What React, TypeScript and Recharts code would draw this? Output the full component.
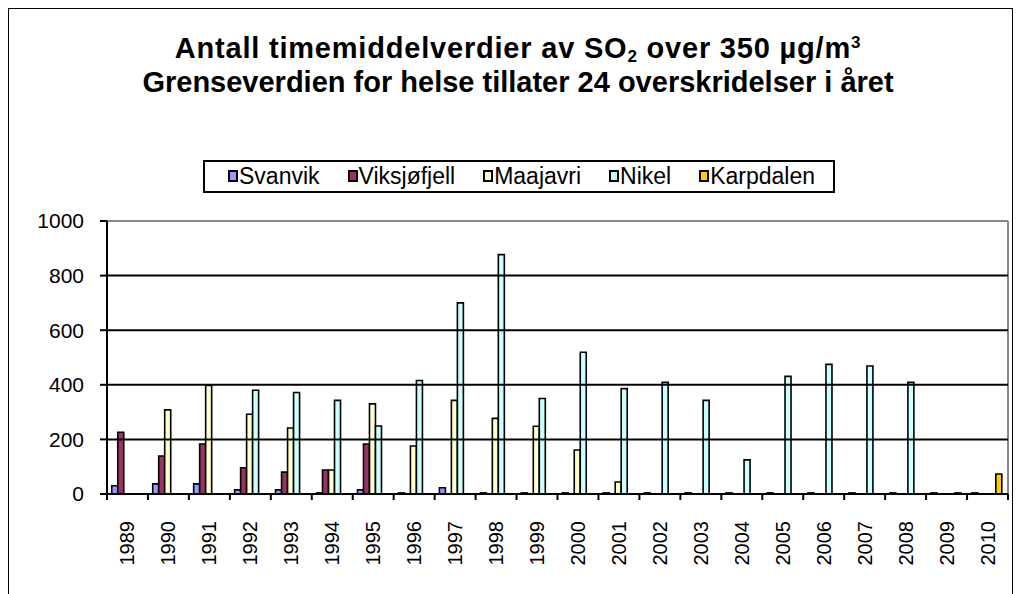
import React from "react";
import { BarChart, Bar, XAxis, YAxis, CartesianGrid, ReferenceLine } from "recharts";

const years = [
  "1989", "1990", "1991", "1992", "1993", "1994", "1995", "1996", "1997", "1998", "1999",
  "2000", "2001", "2002", "2003", "2004", "2005", "2006", "2007", "2008", "2009", "2010",
];

const svanvik = [30, 37, 37, 15, 15, 4, 15, 4, 23, 4, 4, 4, 4, 4, 4, 4, 4, 4, 4, 4, 4, 4];
const viksjofjell = [226, 139, 183, 96, 80, 88, 183, 0, 0, 0, 0, 0, 0, 0, 0, 0, 0, 0, 0, 0, 0, 0];
const maajavri = [0, 308, 398, 292, 242, 88, 330, 176, 343, 277, 248, 161, 44, 0, 0, 0, 0, 0, 0, 0, 0, 0];
const nikel = [0, 0, 0, 380, 372, 343, 249, 416, 700, 877, 350, 519, 386, 409, 343, 125, 431, 475, 469, 409, 0, 0];
const karpdalen = [0, 0, 0, 0, 0, 0, 0, 0, 0, 0, 0, 0, 0, 0, 0, 0, 0, 0, 0, 0, 4, 73];

const yTicks = [0, 200, 400, 600, 800, 1000];
const gridValues = [200, 400, 600, 800];

const SERIES = [
  { key: "Svanvik", values: svanvik, color: "#9999FF" },
  { key: "Viksjøfjell", values: viksjofjell, color: "#993366" },
  { key: "Maajavri", values: maajavri, color: "#FFFFCC" },
  { key: "Nikel", values: nikel, color: "#CCFFFF" },
  { key: "Karpdalen", values: karpdalen, color: "#FFCC00" },
];

const data = years.map((year, i) => {
  const row: Record<string, string | number> = { year };
  SERIES.forEach((s) => {
    row[s.key] = s.values[i];
  });
  return row;
});

const FONT = "'Liberation Sans', Arial, sans-serif";

function YearTick(props: any) {
  const { x, y, payload, index } = props;
  const half = payload?.offset ?? 20.5;
  const last = index === years.length - 1;
  return (
    <g>
      <line x1={x - half} x2={x - half} y1={y} y2={y + 6} stroke="#000" strokeWidth={2} />
      {last && <line x1={x + half} x2={x + half} y1={y} y2={y + 6} stroke="#000" strokeWidth={2} />}
      <text
        x={x}
        y={y + 27}
        transform={`rotate(-90 ${x} ${y + 27})`}
        textAnchor="end"
        dominantBaseline="central"
        fontFamily={FONT}
        fontSize={20}
        fill="#000"
      >
        {payload.value}
      </text>
    </g>
  );
}

// legend box drawn as plain html so it does not eat into the plot area
function LegendBox() {
  return (
    <div
      style={{
        position: "absolute",
        left: 195,
        top: 152,
        width: 632,
        height: 33,
        display: "flex",
        alignItems: "center",
        justifyContent: "space-between",
        border: "2px solid #000",
        padding: "0 18px 1px 23px",
        boxSizing: "border-box",
        fontFamily: FONT,
        fontSize: 23,
        color: "#000",
        background: "#fff",
      }}
    >
      {SERIES.map((s) => (
        <div key={s.key} style={{ display: "flex", alignItems: "center" }}>
          <span
            style={{
              display: "inline-block",
              width: 6,
              height: 8,
              background: s.color,
              border: "2px solid #000",
              marginRight: 1,
            }}
          />
          <span>{s.key}</span>
        </div>
      ))}
    </div>
  );
}

export default function App() {
  return (
    <div style={{ position: "relative", width: 1006, height: 586 }}>
      <div
        style={{
          position: "absolute",
          left: 0,
          top: 0,
          width: 1005,
          height: 620,
          border: "1px solid #000",
          boxSizing: "border-box",
        }}
      />
      <div
        style={{
          position: "absolute",
          left: 0,
          top: 23,
          width: 1020,
          textAlign: "center",
          fontFamily: FONT,
          fontWeight: "bold",
          fontSize: 29,
          lineHeight: "34px",
          color: "#000",
          zIndex: 2,
        }}
      >
        <div style={{ letterSpacing: 0.8 }}>
          Antall timemiddelverdier av SO
          <span style={{ fontSize: 17, position: "relative", top: 4, lineHeight: 0 }}>2</span> over 350 µg/m
          <span style={{ fontSize: 17, position: "relative", top: -10, lineHeight: 0 }}>3</span>
        </div>
        <div>Grenseverdien for helse tillater 24 overskridelser i året</div>
      </div>
      <LegendBox />
      <BarChart
        width={1006}
        height={586}
        data={data}
        margin={{ top: 213, right: 6, bottom: 0, left: 0 }}
        barCategoryGap="11.6%"
        barGap={0}
      >
        <CartesianGrid
          stroke="#888"
          strokeWidth={2}
          horizontalCoordinatesGenerator={({ offset }: any) => [offset.top]}
          verticalCoordinatesGenerator={({ offset }: any) => [offset.left + offset.width]}
        />
        {gridValues.map((v) => (
          <ReferenceLine key={v} y={v} stroke="#000" strokeWidth={2} />
        ))}
        <XAxis
          dataKey="year"
          interval={0}
          height={100}
          tickSize={0}
          tickMargin={0}
          tickLine={false}
          axisLine={{ stroke: "#000", strokeWidth: 2 }}
          tick={<YearTick />}
        />
        <YAxis
          width={99}
          domain={[0, 1000]}
          ticks={yTicks}
          interval={0}
          tickSize={7}
          tickMargin={16}
          tickLine={{ stroke: "#000", strokeWidth: 2 }}
          axisLine={{ stroke: "#000", strokeWidth: 2 }}
          tick={{ fontFamily: FONT, fontSize: 21, fill: "#000" }}
        />
        {SERIES.map((s) => (
          <Bar
            key={s.key}
            dataKey={s.key}
            fill={s.color}
            stroke="#000"
            strokeWidth={1.6}
            isAnimationActive={false}
          />
        ))}
      </BarChart>
    </div>
  );
}
